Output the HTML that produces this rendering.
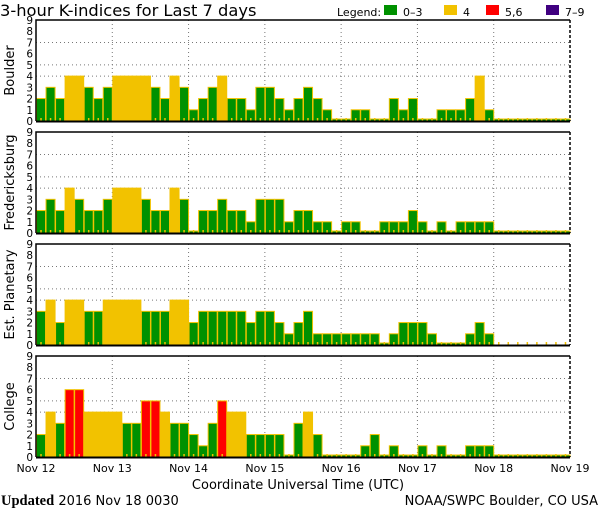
<!DOCTYPE html>
<html><head><meta charset="utf-8"><style>
html,body{margin:0;padding:0;background:#fff;}
svg{display:block;font-family:"DejaVu Sans","Liberation Sans",sans-serif;}
</style></head><body>
<svg id="chart" width="600" height="510" viewBox="0 0 600 510">
<text x="0" y="16" font-size="16.3" fill="#000">3-hour K-indices for Last 7 days</text>
<g font-size="11">
<text x="337" y="16">Legend:</text>
<rect x="384" y="5" width="13" height="10" fill="#009100"/>
<text x="403" y="16">0–3</text>
<rect x="444" y="5" width="13" height="10" fill="#f2c200"/>
<text x="463" y="16">4</text>
<rect x="486" y="5" width="13" height="10" fill="#ff0000"/>
<text x="505" y="16">5,6</text>
<rect x="546" y="5" width="13" height="10" fill="#400080"/>
<text x="565" y="16">7–9</text>
</g>
<g id="panels"></g>
<g id="xaxis" font-size="11"></g>
<text x="298" y="489" font-size="13" text-anchor="middle">Coordinate Universal Time (UTC)</text>
<text x="1" y="505" font-size="13"><tspan font-weight="bold" font-family="Liberation Serif, serif" font-size="14.5">Updated</tspan> <tspan>2016 Nov 18 0030</tspan></text>
<text x="598" y="505" font-size="13" text-anchor="end">NOAA/SWPC Boulder, CO USA</text>
</svg>
<script>
const dayLabels = ["Nov 12","Nov 13","Nov 14","Nov 15","Nov 16","Nov 17","Nov 18","Nov 19"];
const stationNames = ["Boulder","Fredericksburg","Est. Planetary","College"];
const boulder = [2,3,2,4,4,3,2,3, 4,4,4,4,3,2,4,3, 1,2,3,4,2,2,1,3, 3,2,1,2,3,2,1,0, 0,1,1,0,0,2,1,2, 0,0,1,1,1,2,4,1, 0,0,0,0,0,0,0,0];
const fredericksburg = [2,3,2,4,3,2,2,3, 4,4,4,3,2,2,4,3, 0,2,2,3,2,2,1,3, 3,3,1,2,2,1,1,0, 1,1,0,0,1,1,1,2, 1,0,1,0,1,1,1,1, 0,0,0,0,0,0,0,0];
const planetary = [3,4,2,4,4,3,3,4, 4,4,4,3,3,3,4,4, 2,3,3,3,3,3,2,3, 3,2,1,2,3,1,1,1, 1,1,1,1,0,1,2,2, 2,1,0,0,0,1,2,1, null,null,null,null,null,null,null,null];
const college = [2,4,3,6,6,4,4,4, 4,3,3,5,5,4,3,3, 2,1,3,5,4,4,2,2, 2,2,0,3,4,2,0,0, 0,0,1,2,0,1,0,0, 1,0,1,0,0,1,1,1, 0,0,0,0,0,0,0,0];
const yTicks = [0,1,2,3,4,5,6,7,8,9];
const gridLevels = [4,5,7];

const series = [boulder, fredericksburg, planetary, college];
const NS = "http://www.w3.org/2000/svg";
const X0 = 36, X1 = 570, NB = 56;
const panelTops = [20, 132, 244, 356];
const PH = 101;
const bw = (X1 - X0) / NB;
function xScale(i){ return X0 + i * bw; }
function mk(tag, attrs, parent){ const e = document.createElementNS(NS, tag); for (const k in attrs) e.setAttribute(k, attrs[k]); parent.appendChild(e); return e; }
function color(v){ return v <= 3 ? "#009100" : v === 4 ? "#f2c200" : v <= 6 ? "#ff0000" : "#400080"; }
const panels = document.getElementById("panels");
series.forEach((data, p) => {
  const top = panelTops[p], bot = top + PH;
  const yScale = v => bot - v * PH / 9;
  const g = mk("g", {}, panels);
  
  
  gridLevels.forEach(l => {
    const ln = mk("line", {x1: X0, x2: X1, y1: yScale(l), y2: yScale(l), stroke: "#777", "stroke-dasharray": "1,3"}, g);
    
    
  });
  for (let d = 1; d < 7; d++) {
    const ln = mk("line", {x1: xScale(d*8), x2: xScale(d*8), y1: top, y2: bot, stroke: "#777", "stroke-dasharray": "1,3"}, g);
    
    
  }
  data.forEach((v, i) => {
    const x = xScale(i);
    if (v !== null) {
      const h = Math.max(v * PH / 9, 2);
      const r = mk("rect", {x: x + 0.5, y: bot - h, width: bw - 0.5, height: h, fill: color(v), stroke: "#f2c200", "stroke-width": 1}, g);
      
      
    }
    const t = mk("rect", {x: x + bw/2 - 0.5, y: bot - 3, width: 1.5, height: 3, fill: "#f2c200"}, g);
    
    
  });
  const f1 = mk("path", {d: `M${X1} ${top} H${X0} V${bot}`, stroke: "#000", "stroke-width": 1.5, fill: "none"}, g);
  
  
  const f2 = mk("line", {x1: X0, x2: X1, y1: bot + 0.5, y2: bot + 0.5, stroke: "#000", "stroke-width": 2}, g);
  
  
  const f3 = mk("line", {x1: X1, x2: X1, y1: top, y2: bot, stroke: "#000", "stroke-width": 1.5, "stroke-dasharray": "3,2"}, g);
  
  
  yTicks.forEach(t => {
    const tx = mk("text", {x: 33, y: yScale(t) + 4, "font-size": 10.5, "text-anchor": "end"}, g);
    tx.textContent = t;
    
    
  });
  const yl = mk("text", {x: 0, y: 0, "font-size": 13, "text-anchor": "middle", transform: `translate(14 ${top + PH/2}) rotate(-90)`}, g);
  yl.textContent = stationNames[p];
  
  
});
const xa = document.getElementById("xaxis");
dayLabels.forEach((lab, d) => {
  const t = mk("text", {x: xScale(d*8), y: 472, "text-anchor": "middle"}, xa);
  t.textContent = lab;
  
  
});
</script>
</body></html>
